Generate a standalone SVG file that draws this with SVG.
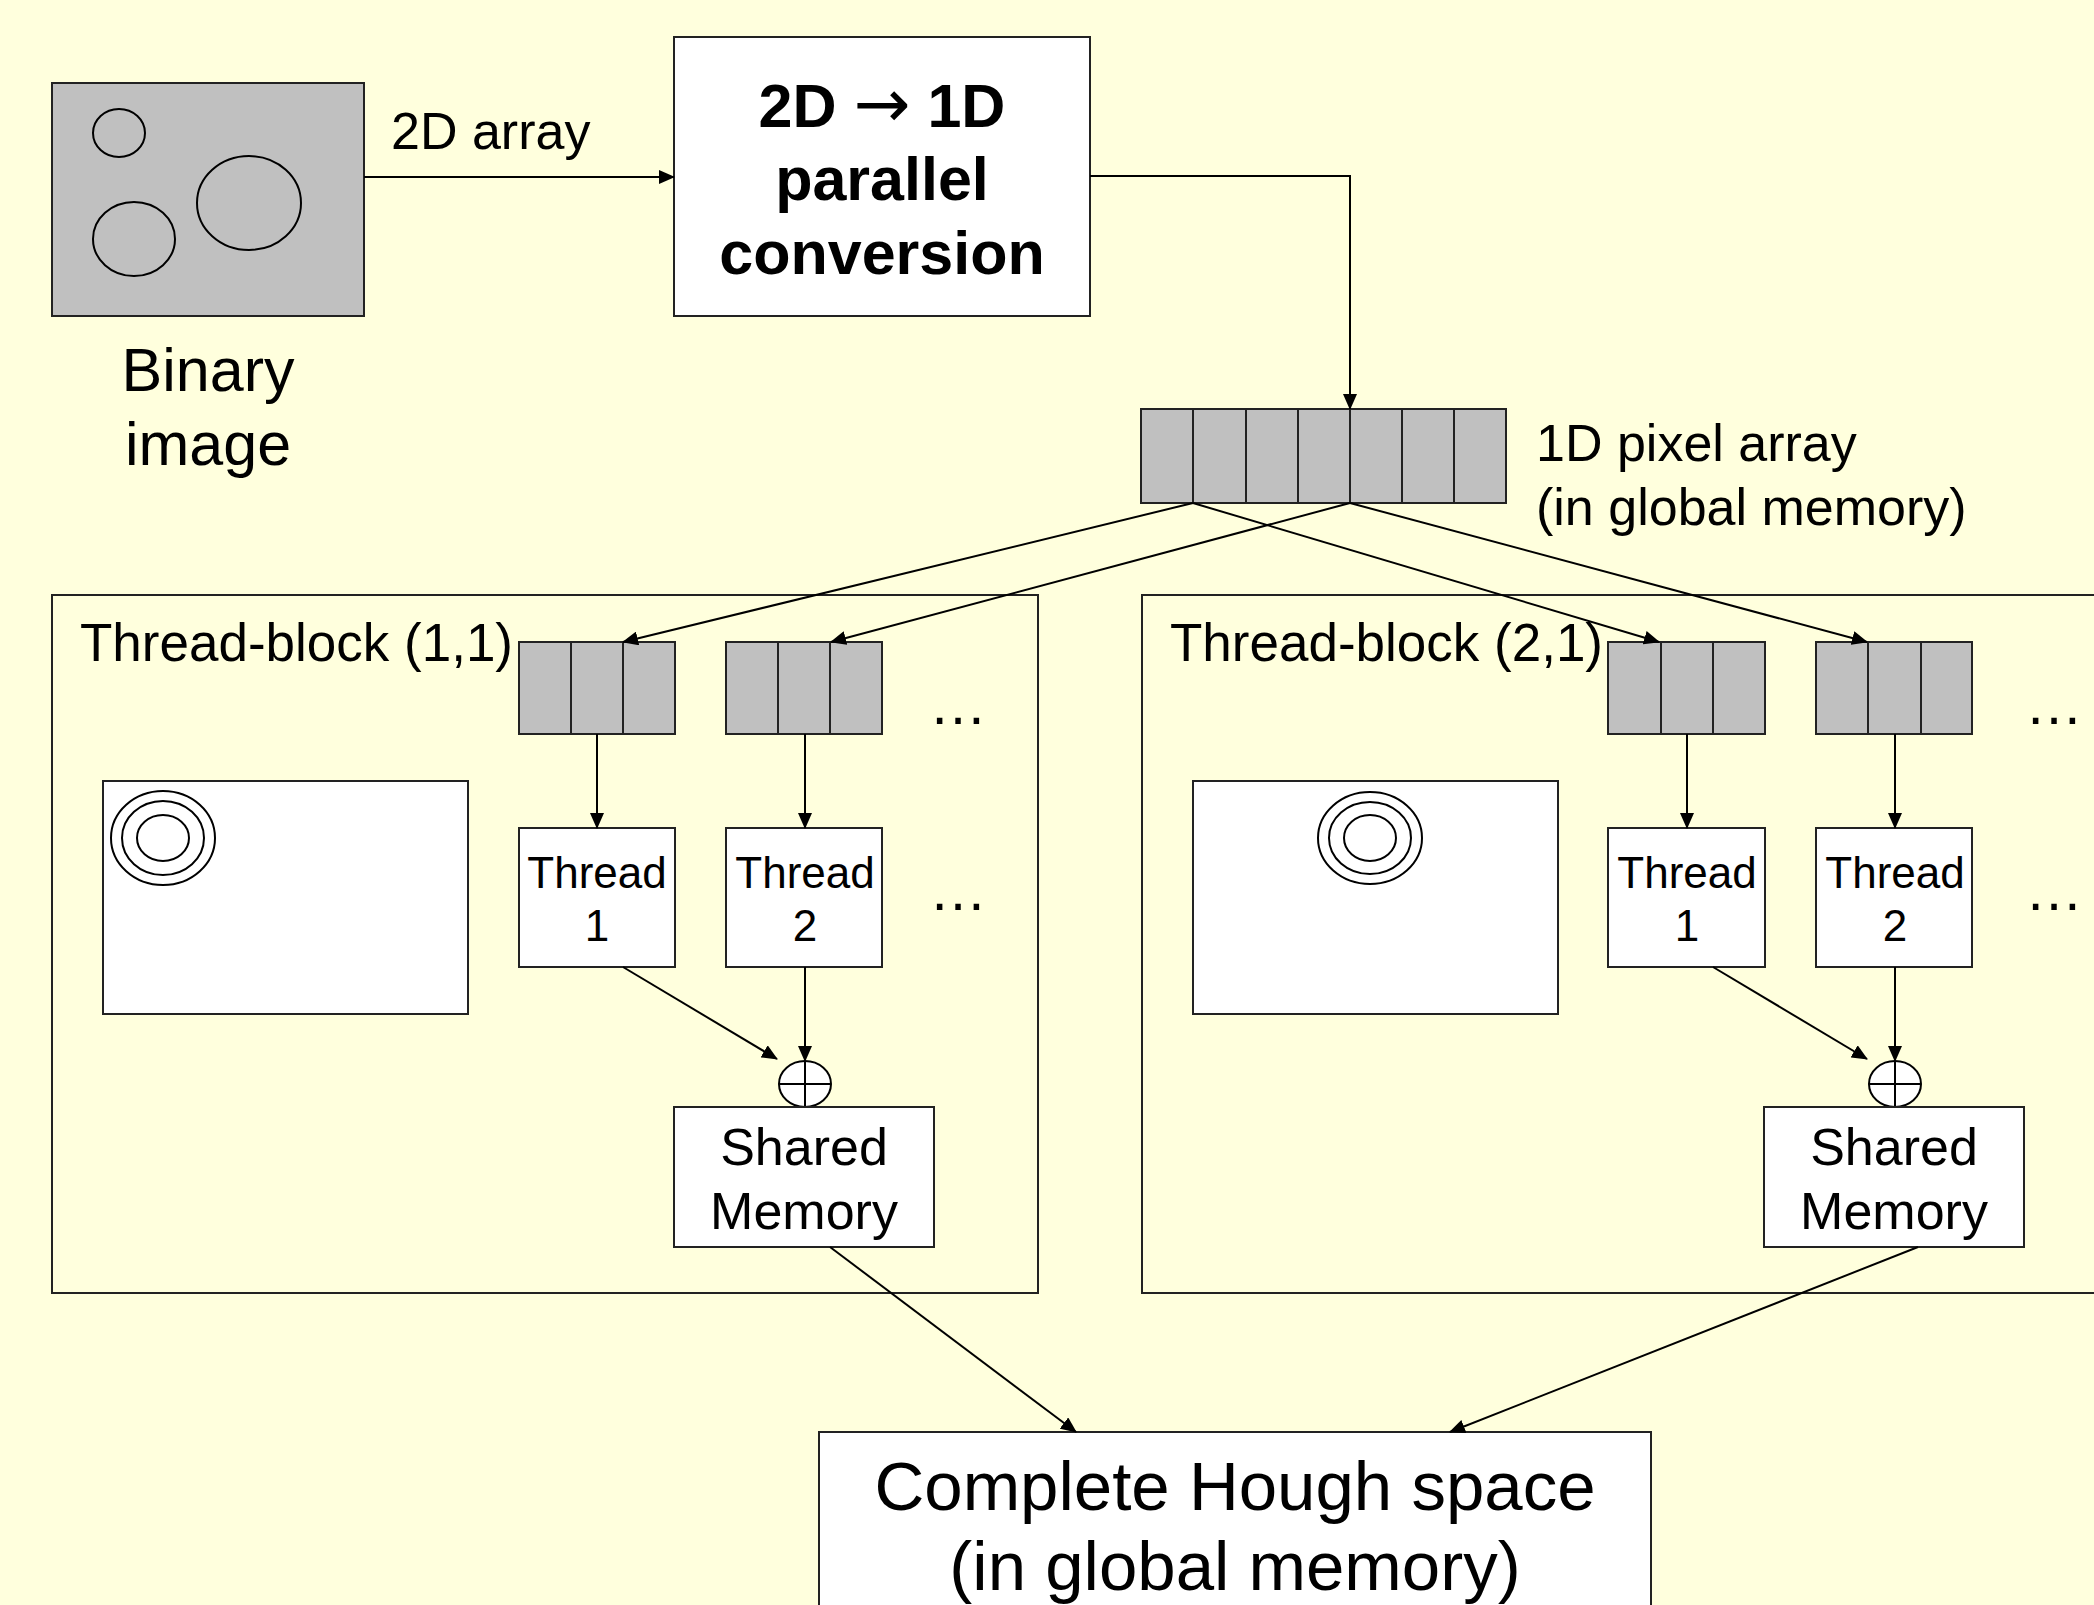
<svg xmlns="http://www.w3.org/2000/svg" width="2094" height="1605" viewBox="0 0 2094 1605">
<style>
.bx{fill:#fff;stroke:#222;stroke-width:2}
.gr{fill:#c0c0c0;stroke:#222;stroke-width:2}
.fr{fill:none;stroke:#222;stroke-width:2}
.ln{fill:none;stroke:#000;stroke-width:2}
.ci{fill:none;stroke:#000;stroke-width:2}
.t{font-family:"Liberation Sans",Arial,sans-serif;fill:#000}
.c{text-anchor:middle}
.ar{font-family:"DejaVu Sans",sans-serif;font-weight:normal}
</style>
<defs>
<marker id="ah" markerUnits="userSpaceOnUse" markerWidth="16" markerHeight="14" refX="15" refY="7" orient="auto">
<path d="M0,0 L16,7 L0,14 z" fill="#000"/>
</marker>
</defs>
<rect width="2094" height="1605" fill="#ffffdd"/>

<g id="binary-image">
<rect class="gr" x="52" y="83" width="312" height="233"/>
<ellipse class="ci" cx="119" cy="133" rx="26" ry="24"/>
<ellipse class="ci" cx="134" cy="239" rx="41" ry="37"/>
<ellipse class="ci" cx="249" cy="203" rx="52" ry="47"/>
<text class="t c" x="208" y="391" font-size="61">Binary</text>
<text class="t c" x="208" y="465" font-size="61">image</text>
</g>

<g id="label-2d-array">
<text class="t" x="391" y="149" font-size="52">2D array</text>
</g>

<g id="conversion">
<rect class="bx" x="674" y="37" width="416" height="279"/>
<text class="t c" x="882" y="127" font-size="61" font-weight="bold">2D <tspan class="ar" font-size="68">→</tspan> 1D</text>
<text class="t c" x="882" y="200" font-size="61" font-weight="bold">parallel</text>
<text class="t c" x="882" y="274" font-size="61" font-weight="bold">conversion</text>
</g>

<g id="pixel-array">
<rect class="gr" x="1141" y="409" width="365" height="94"/>
<path class="fr" d="M1193,409V503M1246,409V503M1298,409V503M1350,409V503M1402,409V503M1454,409V503"/>
<text class="t" x="1536" y="461" font-size="52">1D pixel array</text>
<text class="t" x="1536" y="525" font-size="52">(in global memory)</text>
</g>

<g id="thread-block-1">
<rect class="fr" x="52" y="595" width="986" height="698"/>
<text class="t" x="80" y="661" font-size="53">Thread-block (1,1)</text>
<rect class="bx" x="103" y="781" width="365" height="233"/>
<ellipse class="ci" cx="163" cy="838" rx="52" ry="47"/>
<ellipse class="ci" cx="163" cy="838" rx="41" ry="37"/>
<ellipse class="ci" cx="163" cy="838" rx="26" ry="23"/>
</g>

<g id="b1-array-1">
<rect class="gr" x="519" y="642" width="156" height="92"/>
<path class="fr" d="M571,642V734M623,642V734"/>
</g>
<g id="b1-array-2">
<rect class="gr" x="726" y="642" width="156" height="92"/>
<path class="fr" d="M778,642V734M830,642V734"/>
</g>
<g id="b1-dots">
<text class="t" x="929" y="724" font-size="58">…</text>
<text class="t" x="929" y="910" font-size="58">…</text>
</g>
<g id="b1-thread-1">
<rect class="bx" x="519" y="828" width="156" height="139"/>
<text class="t c" x="597" y="888" font-size="44">Thread</text>
<text class="t c" x="597" y="941" font-size="44">1</text>
</g>
<g id="b1-thread-2">
<rect class="bx" x="726" y="828" width="156" height="139"/>
<text class="t c" x="805" y="888" font-size="44">Thread</text>
<text class="t c" x="805" y="941" font-size="44">2</text>
</g>
<g id="b1-sum">
<ellipse cx="805" cy="1084" rx="26" ry="23" fill="#fff" stroke="#000" stroke-width="2"/>
<path class="ln" d="M805,1061V1107M779,1084H831"/>
</g>
<g id="b1-shared">
<rect class="bx" x="674" y="1107" width="260" height="140"/>
<text class="t c" x="804" y="1165" font-size="52">Shared</text>
<text class="t c" x="804" y="1229" font-size="52">Memory</text>
</g>

<g id="thread-block-2">
<rect class="fr" x="1142" y="595" width="980" height="698"/>
<text class="t" x="1170" y="661" font-size="53">Thread-block (2,1)</text>
<rect class="bx" x="1193" y="781" width="365" height="233"/>
<ellipse class="ci" cx="1370" cy="838" rx="52" ry="46"/>
<ellipse class="ci" cx="1370" cy="838" rx="41" ry="36"/>
<ellipse class="ci" cx="1370" cy="838" rx="26" ry="23"/>
</g>
<g id="b2-array-1">
<rect class="gr" x="1608" y="642" width="157" height="92"/>
<path class="fr" d="M1661,642V734M1713,642V734"/>
</g>
<g id="b2-array-2">
<rect class="gr" x="1816" y="642" width="156" height="92"/>
<path class="fr" d="M1868,642V734M1921,642V734"/>
</g>
<g id="b2-dots">
<text class="t" x="2025" y="724" font-size="58">…</text>
<text class="t" x="2025" y="910" font-size="58">…</text>
</g>
<g id="b2-thread-1">
<rect class="bx" x="1608" y="828" width="157" height="139"/>
<text class="t c" x="1687" y="888" font-size="44">Thread</text>
<text class="t c" x="1687" y="941" font-size="44">1</text>
</g>
<g id="b2-thread-2">
<rect class="bx" x="1816" y="828" width="156" height="139"/>
<text class="t c" x="1895" y="888" font-size="44">Thread</text>
<text class="t c" x="1895" y="941" font-size="44">2</text>
</g>
<g id="b2-sum">
<ellipse cx="1895" cy="1084" rx="26" ry="23" fill="#fff" stroke="#000" stroke-width="2"/>
<path class="ln" d="M1895,1061V1107M1869,1084H1921"/>
</g>
<g id="b2-shared">
<rect class="bx" x="1764" y="1107" width="260" height="140"/>
<text class="t c" x="1894" y="1165" font-size="52">Shared</text>
<text class="t c" x="1894" y="1229" font-size="52">Memory</text>
</g>

<g id="hough">
<rect class="bx" x="819" y="1432" width="832" height="200"/>
<text class="t c" x="1235" y="1510" font-size="69">Complete Hough space</text>
<text class="t c" x="1235" y="1590" font-size="69">(in global memory)</text>
</g>

<g id="connectors">
<path class="ln" d="M364,177H674" marker-end="url(#ah)"/>
<path class="ln" d="M1090,176H1350V409" marker-end="url(#ah)"/>
<path class="ln" d="M1193,503L623,642" marker-end="url(#ah)"/>
<path class="ln" d="M1350,503L831,642" marker-end="url(#ah)"/>
<path class="ln" d="M1193,503L1659,642" marker-end="url(#ah)"/>
<path class="ln" d="M1350,503L1867,642" marker-end="url(#ah)"/>
<path class="ln" d="M597,734V828" marker-end="url(#ah)"/>
<path class="ln" d="M805,734V828" marker-end="url(#ah)"/>
<path class="ln" d="M1687,734V828" marker-end="url(#ah)"/>
<path class="ln" d="M1895,734V828" marker-end="url(#ah)"/>
<path class="ln" d="M623,967L777,1059" marker-end="url(#ah)"/>
<path class="ln" d="M805,967V1061" marker-end="url(#ah)"/>
<path class="ln" d="M1713,967L1867,1059" marker-end="url(#ah)"/>
<path class="ln" d="M1895,967V1061" marker-end="url(#ah)"/>
<path class="ln" d="M830,1247L1076,1432" marker-end="url(#ah)"/>
<path class="ln" d="M1918,1247L1450,1432" marker-end="url(#ah)"/>
</g>
</svg>
